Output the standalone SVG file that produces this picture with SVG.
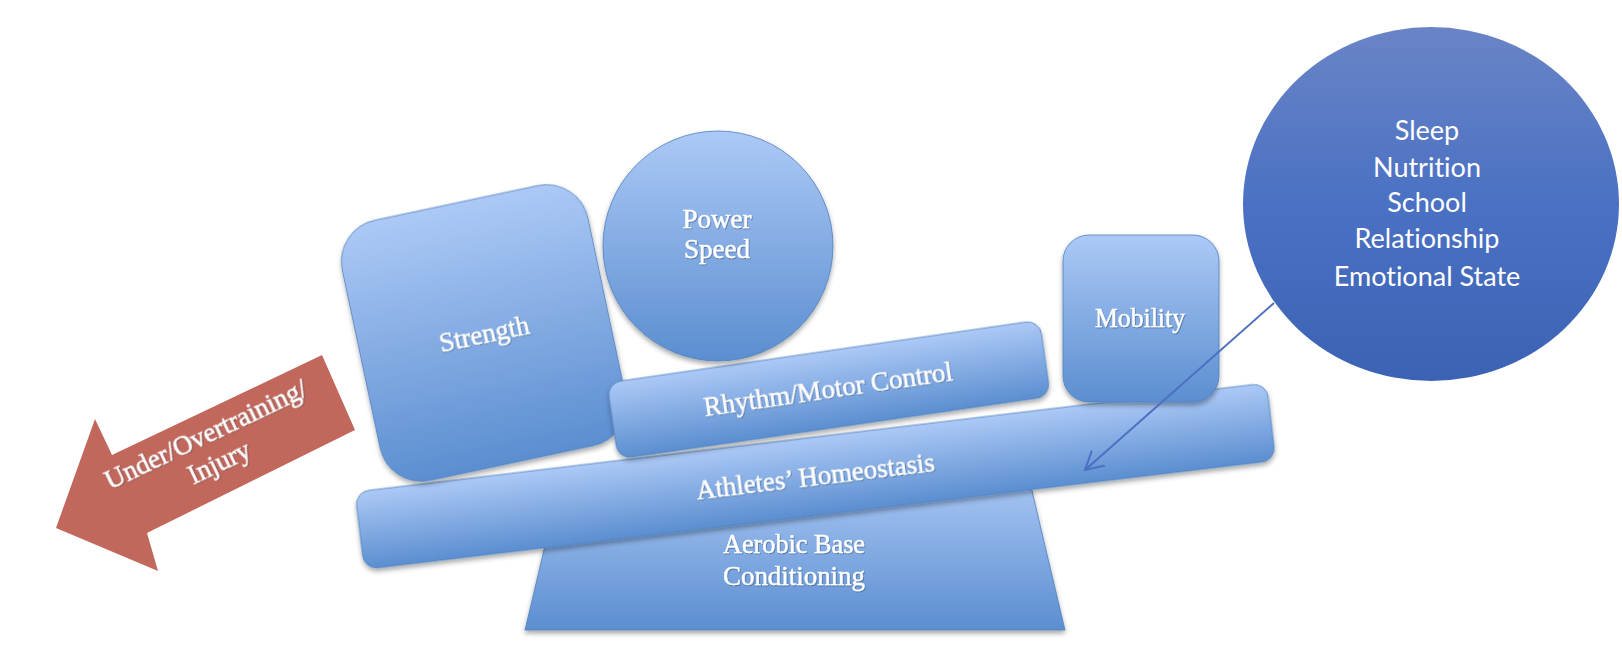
<svg xmlns="http://www.w3.org/2000/svg" width="1622" height="662" viewBox="0 0 1622 662">
<style>
.lbl{font-family:"Liberation Serif","Times New Roman",serif;fill:#ffffff;stroke:#ffffff;stroke-width:0.45;text-anchor:middle;font-size:27px;filter:url(#ts)}
.cir{font-family:Lato,"Liberation Sans",sans-serif;fill:#ffffff;text-anchor:middle;font-size:27px;font-variant-ligatures:none}
.blue{fill:url(#gb);stroke:#4f81bd;stroke-width:1;stroke-opacity:0.8;filter:url(#sh)}
.conn{stroke:#4b6fc1;stroke-width:2;fill:none}
</style>
<defs>
<linearGradient id="gb" x1="0" y1="0" x2="0" y2="1">
<stop offset="0" stop-color="#acc9f6"/>
<stop offset="1" stop-color="#5b8ed0"/>
</linearGradient>
<linearGradient id="gc" x1="0" y1="0" x2="0" y2="1">
<stop offset="0" stop-color="#6a84c6"/>
<stop offset="0.5" stop-color="#4a71c3"/>
<stop offset="1" stop-color="#3c62b4"/>
</linearGradient>
<filter id="sh" x="-10%" y="-10%" width="120%" height="130%">
<feDropShadow dx="0" dy="3" stdDeviation="2.5" flood-color="#000" flood-opacity="0.35"/>
</filter>
<filter id="ts" x="-10%" y="-30%" width="120%" height="160%">
<feDropShadow dx="0.8" dy="1" stdDeviation="0.7" flood-color="#1a3050" flood-opacity="0.45"/>
</filter>
<marker id="ah" markerWidth="20" markerHeight="22" refX="18" refY="11" orient="auto" markerUnits="userSpaceOnUse">
<path d="M0,1 L18,11 L0,21" fill="none" stroke="#4b6fc1" stroke-width="2"/>
</marker>
</defs>
<rect width="1622" height="662" fill="#ffffff"/>

<g id="aerobic">
<polygon class="blue" points="563,470 1027,470 1065,630 525,630"/>
<text class="lbl" x="794" y="553" textLength="142" lengthAdjust="spacingAndGlyphs">Aerobic Base</text>
<text class="lbl" x="794" y="585" textLength="142" lengthAdjust="spacingAndGlyphs">Conditioning</text>
</g>

<g id="homeostasis" transform="translate(355,492) rotate(-6.82)">
<rect class="blue" x="0" y="0" width="918" height="78" rx="14"/>
<text class="lbl" x="459" y="48" textLength="240" lengthAdjust="spacingAndGlyphs">Athletes’ Homeostasis</text>
</g>

<g id="strength" transform="translate(484,333) rotate(-12)">
<rect class="blue" x="-125.5" y="-133" width="251" height="266" rx="42"/>
<text class="lbl" x="0" y="10">Strength</text>
</g>

<g id="rhythm" transform="translate(607,383) rotate(-8.28)">
<rect class="blue" x="0" y="0" width="437" height="77" rx="14"/>
<text class="lbl" x="218" y="47">Rhythm/Motor Control</text>
</g>

<g id="power">
<circle class="blue" cx="718" cy="246" r="115"/>
<text class="lbl" x="717" y="228">Power</text>
<text class="lbl" x="717" y="258">Speed</text>
</g>

<g id="mobility">
<rect class="blue" x="1063" y="235" width="156" height="167" rx="26"/>
<text class="lbl" x="1140" y="327" textLength="90" lengthAdjust="spacingAndGlyphs">Mobility</text>
</g>

<g id="injury">
<polygon points="56,528 95,419 112,455 322,355 355,430 147,533 158,571" fill="#c1675c"/>
<g transform="translate(216,456) rotate(-25.5)">
<text class="lbl" x="0" y="-15">Under/Overtraining/</text>
<text class="lbl" x="0" y="16">Injury</text>
</g>
</g>

<g id="factors">
<ellipse cx="1431" cy="204" rx="188" ry="177" fill="url(#gc)"/>
<text class="cir" x="1427" y="140">Sleep</text>
<text class="cir" x="1427" y="177">Nutrition</text>
<text class="cir" x="1427" y="212">School</text>
<text class="cir" x="1427" y="248">Relationship</text>
<text class="cir" x="1427" y="286">Emotional State</text>
</g>

<g id="connectors">
<line class="conn" x1="1274" y1="303" x2="1085" y2="470" marker-end="url(#ah)"/>
</g>
</svg>
